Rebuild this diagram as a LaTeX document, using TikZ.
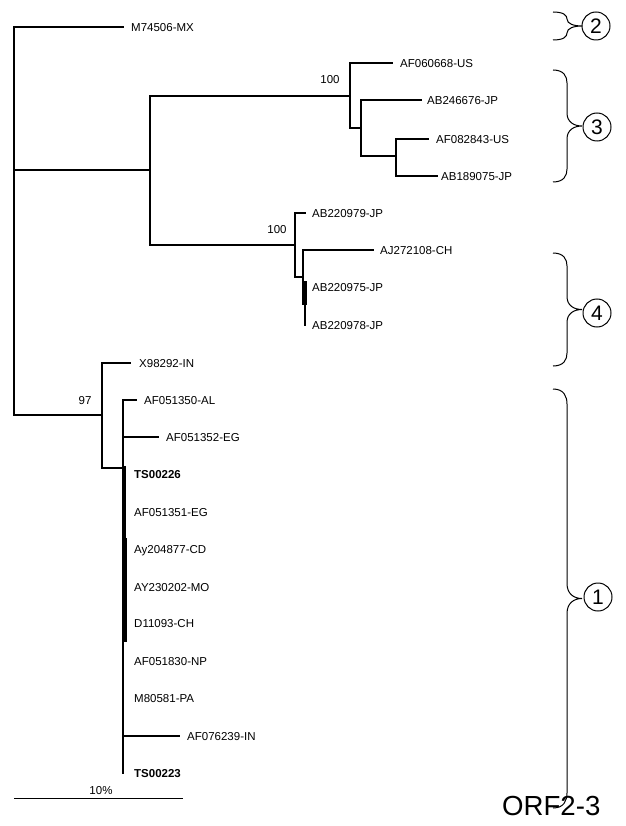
\documentclass[tikz,border=0pt]{standalone}
\usepackage{fontspec}
\setmainfont{Liberation Sans}
\newcommand\mybrace[3]{% y1, y2, d
  \draw[bracel] (553,#1) .. controls (564,#1) and (567,{#1+#3/2}) .. (567,{#1+#3})
    -- (567,{(#1+#2)/2-#3}) .. controls (567,{(#1+#2)/2-0.3*#3}) and (574,{(#1+#2)/2}) .. (582,{(#1+#2)/2})
    .. controls (574,{(#1+#2)/2}) and (567,{(#1+#2)/2+0.3*#3}) .. (567,{(#1+#2)/2+#3})
    -- (567,{#2-#3}) .. controls (567,{#2-#3/2}) and (564,#2) .. (553,#2);}
\begin{document}
\begin{tikzpicture}[x=1pt,y=-1pt,
  br/.style={line width=2.6pt, line cap=rect},
  fat/.style={line width=4.2pt},
  bracel/.style={line width=1pt},
  lab/.style={anchor=west, inner sep=0pt, text height=8.2pt, text depth=0pt, font=\fontsize{11.5}{13}\selectfont},
  blab/.style={lab, font=\fontsize{11.5}{13}\selectfont\bfseries},
  boot/.style={inner sep=0pt, font=\fontsize{11.5}{13}\selectfont},
  grp/.style={circle, draw, line width=1pt, minimum size=28pt, inner sep=0pt, font=\fontsize{21}{23}\selectfont}]
\useasboundingbox (0,0) rectangle (625,826);

% internal nodes
\coordinate (r) at (14,170);
\coordinate (A) at (150,170);
\coordinate (B1) at (350,96);
\coordinate (D1) at (361,128);
\coordinate (D2) at (396,156);
\coordinate (B2) at (295,245);
\coordinate (E1) at (303,277);
\coordinate (C) at (102,415);
\coordinate (F) at (123,468);
\coordinate (G) at (123,437);
% leaf tips
\coordinate (t1) at (123,27);
\coordinate (t2) at (392,63);
\coordinate (t3) at (421,100);
\coordinate (t4) at (428,139);
\coordinate (t5) at (437,176);
\coordinate (t6) at (305,213);
\coordinate (t7) at (373,250);
\coordinate (t8) at (305,287);
\coordinate (t9) at (305,325);
\coordinate (t10) at (130,363);
\coordinate (t11) at (136,400);
\coordinate (t12) at (158,437);
\coordinate (t19) at (179,736);
\coordinate (t21) at (123,773);

% branches
\draw[br] (r) |- (t1);
\draw[br] (r) -- (A);
\draw[br] (r) |- (C);
\draw[br] (A) |- (B1);
\draw[br] (A) |- (B2);
\draw[br] (B1) |- (t2);
\draw[br] (B1) |- (D1);
\draw[br] (D1) |- (t3);
\draw[br] (D1) |- (D2);
\draw[br] (D2) |- (t4);
\draw[br] (D2) |- (t5);
\draw[br] (B2) |- (t6);
\draw[br] (B2) |- (E1);
\draw[br] (E1) |- (t7);
\draw[br] (303,277) -- (303,300);
\draw[br] (305,300) -- (t9);
\draw[fat] (304.5,281) -- (304.5,305);
\draw[br] (C) |- (t10);
\draw[br] (C) |- (F);
\draw[br] (F) |- (t11);
\draw[br] (F) -- (t21);
\draw[br] (G) -- (t12);
\draw[br] (123,736) -- (t19);
\draw[fat] (124,466) -- (124,538);
\draw[fat] (125,538) -- (125,642);

% leaf labels
\node[lab] (l1) at (131,27) {M74506-MX};
\node[lab] (l2) at (400,63) {AF060668-US};
\node[lab] (l3) at (427,100) {AB246676-JP};
\node[lab] (l4) at (436,139) {AF082843-US};
\node[lab] (l5) at (441,176) {AB189075-JP};
\node[lab] (l6) at (312,213) {AB220979-JP};
\node[lab] (l7) at (380,250) {AJ272108-CH};
\node[lab] (l8) at (312,287) {AB220975-JP};
\node[lab] (l9) at (312,325) {AB220978-JP};
\node[lab] (l10) at (139,363) {X98292-IN};
\node[lab] (l11) at (144,400) {AF051350-AL};
\node[lab] (l12) at (166,437) {AF051352-EG};
\node[blab] (l13) at (134,474) {TS00226};
\node[lab] (l14) at (134,512) {AF051351-EG};
\node[lab] (l15) at (134,549) {Ay204877-CD};
\node[lab] (l16) at (134,587) {AY230202-MO};
\node[lab] (l17) at (134,623) {D11093-CH};
\node[lab] (l18) at (134,661) {AF051830-NP};
\node[lab] (l19) at (134,698) {M80581-PA};
\node[lab] (l20) at (187,736) {AF076239-IN};
\node[blab] (l21) at (134,773) {TS00223};

% bootstrap values
\node[boot] (b1) at (330,80) {100};
\node[boot] (b2) at (277,230) {100};
\node[boot] (b3) at (85,401) {97};

% scale bar
\coordinate (s1) at (14,798);
\coordinate (s2) at (183,798);
\draw[line width=0.8pt] (s1) -- (s2);
\node[boot] (sc) at (101,791) {10\%};

% braces and group numbers
\mybrace{12}{40}{7}
\mybrace{70}{182}{13}
\mybrace{253}{366}{13}
\mybrace{389}{808}{15}
\node[grp] (g2) at (596,26) {2};
\node[grp] (g3) at (597,127) {3};
\node[grp] (g4) at (597,313) {4};
\node[grp] (g1) at (598,597) {1};

\node[anchor=base west, inner sep=0pt, font=\fontsize{27.6}{30}\selectfont] (title) at (502,815) {ORF2-3};
\end{tikzpicture}
\end{document}
